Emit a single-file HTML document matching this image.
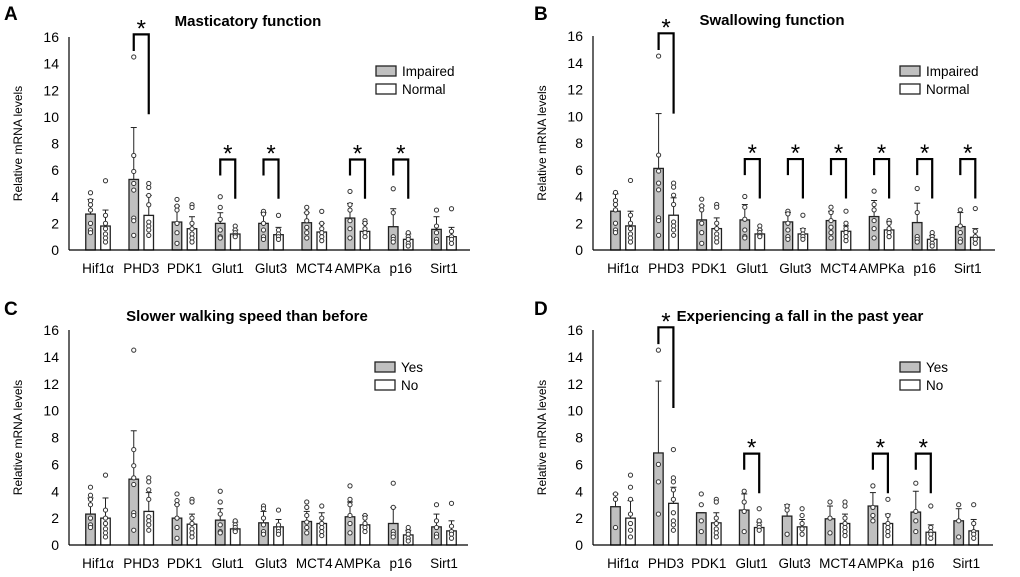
<!DOCTYPE html>
<html><head><meta charset="utf-8">
<style>
html,body{margin:0;padding:0;background:#fff;}
svg{display:block;font-family:"Liberation Sans",sans-serif;}
</style></head>
<body>
<svg id="chart" width="1020" height="577" viewBox="0 0 1020 577" xmlns="http://www.w3.org/2000/svg"></svg>
<script>
const categories = ["Hif1\u03b1","PHD3","PDK1","Glut1","Glut3","MCT4","AMPKa","p16","Sirt1"];
const yTicks = [0,2,4,6,8,10,12,14,16];

const titleA = "Masticatory function", titleB = "Swallowing function", titleC = "Slower walking speed than before", titleD = "Experiencing a fall in the past year";

const meanGrayA = [2.7,5.3,2.1,2.0,2.0,2.05,2.4,1.75,1.55];
const errGrayA  = [3.8,9.2,3.3,2.8,2.8,2.8,3.5,3.1,2.5];
const meanWhiteA= [1.8,2.6,1.6,1.2,1.15,1.35,1.4,0.8,1.0];
const errWhiteA = [3.0,4.1,2.5,1.5,1.7,2.0,2.0,1.2,1.7];
const starsA = [1,3,4,6,7];

const meanGrayB = [2.9,6.1,2.25,2.25,2.1,2.2,2.5,2.05,1.75];
const errGrayB  = [4.2,10.2,3.3,3.4,2.8,2.9,3.7,3.5,2.8];
const meanWhiteB= [1.8,2.6,1.6,1.2,1.2,1.4,1.5,0.8,0.95];
const errWhiteB = [2.9,3.9,2.4,1.5,1.6,1.8,2.1,1.1,1.6];
const starsB = [1,3,4,5,6,7,8];

const meanGrayC = [2.3,4.9,2.0,1.85,1.65,1.75,2.1,1.6,1.35];
const errGrayC  = [3.5,8.5,3.0,2.7,2.5,2.5,3.2,2.8,2.3];
const meanWhiteC= [2.0,2.5,1.55,1.2,1.35,1.6,1.5,0.75,1.05];
const errWhiteC = [3.5,3.9,2.3,1.7,1.9,2.4,2.2,1.1,1.8];
const starsC = [];

const meanGrayD = [2.85,6.85,2.4,2.6,2.15,1.95,2.9,2.45,1.8];
const errGrayD  = [3.8,12.2,2.4,3.8,3.0,2.9,3.9,4.0,2.7];
const meanWhiteD= [2.0,3.1,1.65,1.3,1.35,1.6,1.6,0.95,1.05];
const errWhiteD = [3.3,4.3,2.4,1.7,1.9,2.3,2.3,1.5,1.9];
const starsD = [1,3,6,7];

const dotsGrayAll = [[4.3,3.7,3.4,3.0,2.0,1.5,1.3],[14.5,7.1,5.9,5.0,4.5,2.4,2.2,1.1],[3.8,3.3,3.0,2.0,1.3,0.5],[4.0,3.2,2.3,1.5,1.0,0.9],[2.9,2.7,2.0,1.5,1.0,0.8],[3.2,2.8,2.2,1.7,1.3,0.9],[4.4,3.4,3.0,2.2,1.6,0.9],[4.6,2.8,1.0,0.8,0.6],[3.0,1.8,1.3,0.8,0.6]];
const dotsWhiteAll = [[5.2,2.6,2.0,1.6,1.2,0.9,0.6],[5.0,4.7,4.1,3.4,2.1,1.8,1.5,1.1],[3.4,3.2,2.0,1.6,1.2,0.9,0.6],[1.8,1.5,1.3,1.1,1.0],[2.6,1.5,1.2,1.0,0.8],[2.9,2.0,1.6,1.3,1.0,0.7],[2.2,2.0,1.6,1.3,1.0],[1.3,1.0,0.8,0.5,0.3],[3.1,1.4,1.0,0.8,0.5]];
const dotsGrayD = [[3.8,3.4,1.3],[14.5,6.0,4.7,2.3],[3.8,3.0,1.8,1.0],[4.0,3.2,2.5,1.0],[2.9,2.6,0.8],[3.2,2.0,0.9],[4.4,2.8,2.2,1.8],[4.6,2.5,1.8,1.0],[3.0,1.8,0.6]];
const dotsWhiteD = [[5.2,4.3,3.4,2.3,1.6,1.1,0.6],[7.1,5.0,4.7,4.1,3.4,2.4,1.8,1.5,1.1],[3.4,3.2,2.0,1.6,1.2,0.9,0.6],[2.7,1.8,1.5,1.3,1.1],[2.7,2.2,1.6,1.2,0.8],[3.2,2.9,2.0,1.6,1.3,1.0,0.7],[3.4,2.2,1.6,1.3,1.0,0.7],[2.9,1.3,1.0,0.8,0.5],[3.0,1.6,1.0,0.8,0.5]];

const NS = "http://www.w3.org/2000/svg";
const svg = document.getElementById("chart");
function mk(tag, attrs, parent){ const e=document.createElementNS(NS,tag); for(const k in attrs) e.setAttribute(k,attrs[k]); (parent||svg).appendChild(e); return e; }

const panels = [
 {id:"a", letter:"A", lx:4, ly:20, title:titleA, tx:248, ty:26, ax:69, y0:250, y16:37, xEnd:470, c0:98, sp:43.25,
  mg:meanGrayA, eg:errGrayA, mw:meanWhiteA, ew:errWhiteA, stars:starsA, dg:dotsGrayAll, dw:dotsWhiteAll, leg:["Impaired","Normal"], legX:376, legY:66, ylx:22},
 {id:"b", letter:"B", lx:534, ly:20, title:titleB, tx:772, ty:25, ax:593, y0:250, y16:36, xEnd:995, c0:623, sp:43.1,
  mg:meanGrayB, eg:errGrayB, mw:meanWhiteB, ew:errWhiteB, stars:starsB, dg:dotsGrayAll, dw:dotsWhiteAll, leg:["Impaired","Normal"], legX:900, legY:66, ylx:546},
 {id:"c", letter:"C", lx:4, ly:315, title:titleC, tx:247, ty:321, ax:69, y0:545, y16:330, xEnd:468, c0:98, sp:43.25,
  mg:meanGrayC, eg:errGrayC, mw:meanWhiteC, ew:errWhiteC, stars:starsC, dg:dotsGrayAll, dw:dotsWhiteAll, leg:["Yes","No"], legX:375, legY:362, ylx:22},
 {id:"d", letter:"D", lx:534, ly:315, title:titleD, tx:800, ty:321, ax:593, y0:545, y16:330, xEnd:993, c0:623, sp:42.9,
  mg:meanGrayD, eg:errGrayD, mw:meanWhiteD, ew:errWhiteD, stars:starsD, dg:dotsGrayD, dw:dotsWhiteD, leg:["Yes","No"], legX:900, legY:362, ylx:546}
];

panels.forEach(p=>{
  const g = mk("g",{});
  
  
  const yS = v => p.y0 - (p.y0-p.y16)*v/16;
  const xS = i => p.c0 + i*p.sp;
  const L = mk("text",{x:p.lx,y:p.ly,"font-size":19,"font-weight":"bold",fill:"#000"},g); L.textContent=p.letter;
   
  const T = mk("text",{x:p.tx,y:p.ty,"font-size":15,"font-weight":"bold","text-anchor":"middle",fill:"#000"},g); T.textContent=p.title;
   
  const cy=(p.y0+p.y16)/2;
  const YL = mk("text",{x:p.ylx,y:cy,"font-size":12,"text-anchor":"middle",transform:`rotate(-90 ${p.ylx} ${cy})`,fill:"#000"},g); YL.textContent="Relative mRNA levels";
   
  yTicks.forEach(t=>{
    const tt = mk("text",{x:p.ax-10,y:yS(t)+5,"font-size":14,"text-anchor":"end",fill:"#000"},g); tt.textContent=t;
     
  });
  const ya = mk("line",{x1:p.ax,y1:p.y16,x2:p.ax,y2:p.y0,stroke:"#000","stroke-width":1.2},g);
   
  categories.forEach((c,i)=>{
    const x=xS(i);
    [[p.mg[i],p.eg[i],p.dg[i],"#c0c0c0",-7.5,"gray"],[p.mw[i],p.ew[i],p.dw[i],"#fff",7.5,"white"]].forEach(([m,e,dots,fill,off,nm])=>{
      const bx=x+off;
      const eb=mk("line",{x1:bx,y1:yS(m),x2:bx,y2:yS(e),stroke:"#222","stroke-width":1},g);
       
      const cap=mk("line",{x1:bx-3,y1:yS(e),x2:bx+3,y2:yS(e),stroke:"#222","stroke-width":1},g);
       
      const r=mk("rect",{x:bx-4.75,y:yS(m),width:9.5,height:yS(0)-yS(m),fill:fill,stroke:"#222","stroke-width":1.3},g);
       
      dots.forEach(v=>{
        const d=mk("circle",{cx:bx,cy:yS(v),r:2.1,fill:"#fff",stroke:"#333","stroke-width":1},g);
         
      });
    });
    const cl=mk("text",{x:x,y:p.y0+23,"font-size":13.5,"text-anchor":"middle",fill:"#000"},g); cl.textContent=c;
     
  });
  const xa = mk("line",{x1:p.ax,y1:p.y0,x2:p.xEnd,y2:p.y0,stroke:"#000","stroke-width":1.2},g);
   
  p.stars.forEach(i=>{
    const x=xS(i), xl=x-7.5, xr=x+7.5;
    const big = i===1;
    const top = big?16.2:6.8, lb = big?14.95:5.6, rb = big?10.2:3.85;
    const br=mk("path",{d:`M${xl} ${yS(lb)} V${yS(top)} H${xr} V${yS(rb)}`,fill:"none",stroke:"#000","stroke-width":2.2},g);
     
    const st=mk("text",{x:x,y:yS(top)+2,"font-size":24,"text-anchor":"middle",fill:"#000"},g); st.textContent="*";
     
  });
  p.leg.forEach((lab,k)=>{
    const ly=p.legY+k*18;
    const lr=mk("rect",{x:p.legX,y:ly,width:20,height:10,fill:k?"#fff":"#c0c0c0",stroke:"#222","stroke-width":1.3},g);
     
    const lt=mk("text",{x:p.legX+26,y:ly+10,"font-size":13.5,fill:"#000"},g); lt.textContent=lab;
     
  });
});
</script>
</body></html>
